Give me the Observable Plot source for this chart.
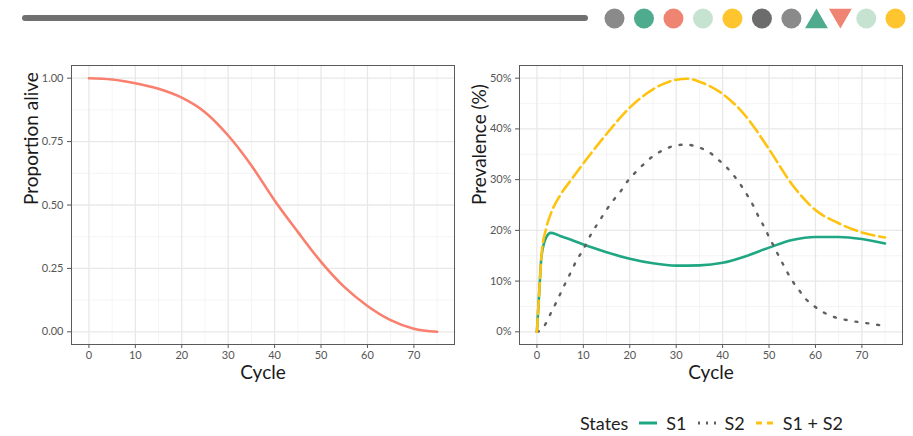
<!DOCTYPE html>
<html>
<head>
<meta charset="utf-8">
<script src="https://cdn.jsdelivr.net/npm/d3@7"></script>
<script src="https://cdn.jsdelivr.net/npm/@observablehq/plot@0.6"></script>
<style>
  body { margin: 0; background: #fff; font-family: Lato, "Open Sans", sans-serif; }
  #page { position: relative; width: 913px; height: 436px; overflow: hidden; background: #fff; }
  .abs { position: absolute; }
  #bar { left: 22px; top: 15px; width: 566px; height: 6px; border-radius: 3px; background: #707070; }
  #legend { left: 580px; top: 412px; display: flex; align-items: center; font-size: 18px; color: #222; white-space: nowrap; }
  #legend .key { display: flex; align-items: center; margin-left: 10px; }
  #legend svg { margin-right: 8px; }
</style>
</head>
<body>
<div id="page">
  <div id="bar" class="abs"></div>
  <div id="swatches" class="abs" style="left:600px;top:3px"></div>
  <div id="left" class="abs" style="left:0px;top:50px"></div>
  <div id="right" class="abs" style="left:455px;top:50px"></div>
  <div id="legend" class="abs"></div>
</div>
<script>
// Survival: proportion of the cohort still alive at each cycle
const cycles = [0, 5, 10, 15, 20, 25, 30, 35, 40, 45, 50, 55, 60, 65, 70, 75];
const alive  = [1.000, 0.995, 0.980, 0.958, 0.923, 0.866, 0.774, 0.656, 0.518, 0.394, 0.276, 0.177, 0.102, 0.046, 0.012, 0.000];

// Prevalence of state S1 (%)
const s1Cycle = [0, 0.5, 1, 2, 3, 4, 5, 7.5, 10, 15, 20, 25, 30, 35, 40, 45, 50, 55, 60, 65, 70, 75];
const s1Value = [0, 7.8, 15, 18.6, 19.5, 19.3, 18.9, 18.1, 17.2, 15.7, 14.4, 13.5, 13.05, 13.1, 13.6, 14.9, 16.6, 18.1, 18.7, 18.7, 18.3, 17.4];

// Prevalence of state S2 (%)
const s2Cycle = [0, 0.4, 1.9, 3.0, 4.1, 5.2, 6.3, 7.5, 8.6, 10.0, 11.1, 12.3, 13.7, 15.1, 16.6, 18.2, 19.6, 21.3, 23.2, 25.1, 27.4, 29.7, 32.2, 34.7, 37.1, 39.1, 40.9, 42.6, 44.1, 45.4, 46.7, 47.8, 49.0, 50.1, 51.3, 52.4, 53.6, 54.9, 56.4, 57.9, 59.8, 62.0, 64.4, 66.9, 69.4, 71.9, 75];
const s2Value = [0, 0.1, 1.6, 3.7, 5.7, 7.8, 9.9, 12.1, 14.2, 16.2, 18.3, 20.2, 22.2, 24.2, 26.1, 27.9, 29.8, 31.5, 33.2, 34.7, 35.9, 36.7, 36.9, 36.4, 35.4, 33.9, 32.4, 30.6, 28.7, 26.8, 24.7, 22.6, 20.6, 18.5, 16.4, 14.4, 12.3, 10.2, 8.3, 6.5, 5.0, 3.7, 2.8, 2.3, 1.9, 1.6, 1.1];

// Prevalence of S1 + S2 (%)
const totCycle = [0, 0.5, 1, 2, 3, 5, 7.5, 10, 15, 20, 25, 30, 32.5, 35, 40, 45, 50, 55, 60, 65, 70, 75];
const totValue = [0, 7.9, 15.2, 20.4, 23.3, 26.9, 30.1, 33.2, 39.0, 44.2, 47.8, 49.7, 49.9, 49.3, 46.9, 42.5, 36.0, 29.0, 24.0, 21.4, 19.6, 18.6];

// Axis ticks
const cycleTicks = [0, 10, 20, 30, 40, 50, 60, 70];
const cycleMinor = [5, 15, 25, 35, 45, 55, 65, 75];
const aliveTicks = [0, 0.25, 0.5, 0.75, 1];
const aliveMinor = [0.125, 0.375, 0.625, 0.875];
const prevTicks = [0, 10, 20, 30, 40, 50];
const prevMinor = [5, 15, 25, 35, 45];

// States legend
const stateNames = ["S1", "S2", "S1 + S2"];
const stateColors = ["#1fa784", "#606060", "#ffc20e"];

// Decorative header swatches
const swatchSlot  = [0, 1, 2, 3, 4, 5, 6, 6.85, 7.66, 8.54, 9.53];
const swatchColor = ["#8a8a8a", "#4fab8d", "#ef8473", "#c6e3d2", "#fec52f", "#6c6c6c", "#8a8a8a", "#4fab8d", "#ef8473", "#c6e3d2", "#fec52f"];
const swatchShape = ["circle", "circle", "circle", "circle", "circle", "circle", "circle", "up", "down", "circle", "circle"];

const font = "Lato, 'Open Sans', sans-serif";
const xDomain = [-3.75, 78.75];

function panelMarks(yTicks, yMinor, yFormat, ylabel) {
  return [
    Plot.gridX(cycleMinor, {stroke: "#f1f1f1", strokeOpacity: 1, strokeWidth: 0.8}),
    Plot.gridY(yMinor, {stroke: "#f1f1f1", strokeOpacity: 1, strokeWidth: 0.8}),
    Plot.gridX(cycleTicks, {stroke: "#e8e8e8", strokeOpacity: 1, strokeWidth: 1.3}),
    Plot.gridY(yTicks, {stroke: "#e8e8e8", strokeOpacity: 1, strokeWidth: 1.3}),
    Plot.axisX(cycleTicks, {tickSize: 4, tickPadding: 3, fontSize: 11, fill: "#555", stroke: "#555", label: null}),
    Plot.axisY(yTicks, {tickSize: 4, tickPadding: 4, fontSize: 11, fill: "#555", stroke: "#555", label: null, tickFormat: yFormat}),
    Plot.text(["Cycle"], {frameAnchor: "bottom", lineAnchor: "middle", dy: 28, fontSize: 19, fill: "#1a1a1a"}),
    Plot.text([ylabel], {frameAnchor: "left", rotate: -90, dx: -40, fontSize: 19, fill: "#1a1a1a"}),
    Plot.frame({stroke: "#5a5a5a", strokeWidth: 1})
  ];
}

// Left panel: survival curve
const survival = cycles.map((c, i) => ({cycle: c, alive: alive[i]}));
const leftPlot = Plot.plot({
  width: 456, height: 344,
  marginLeft: 71, marginRight: 2, marginTop: 15, marginBottom: 50,
  style: {fontFamily: font, background: "transparent", overflow: "visible"},
  x: {domain: xDomain},
  y: {domain: [-0.05, 1.05]},
  marks: [
    ...panelMarks(aliveTicks, aliveMinor, d3.format(".2f"), "Proportion alive"),
    Plot.line(survival, {x: "cycle", y: "alive", stroke: "#f97f6e", strokeWidth: 2.6, curve: "monotone-x"})
  ]
});
document.getElementById("left").appendChild(leftPlot);

// Right panel: state prevalence (S1 + S2 drawn last, on top)
const s1 = s1Cycle.map((c, i) => ({cycle: c, value: s1Value[i]}));
const s2 = s2Cycle.map((c, i) => ({cycle: c, value: s2Value[i]}));
const tot = totCycle.map((c, i) => ({cycle: c, value: totValue[i]}));
const rightPlot = Plot.plot({
  width: 448, height: 344,
  marginLeft: 64, marginRight: 1, marginTop: 15, marginBottom: 50,
  style: {fontFamily: font, background: "transparent", overflow: "visible"},
  x: {domain: xDomain},
  y: {domain: [-2.5, 52.5]},
  marks: [
    ...panelMarks(prevTicks, prevMinor, d => d + "%", "Prevalence (%)"),
    Plot.line(s1, {x: "cycle", y: "value", stroke: stateColors[0], strokeWidth: 2.6, curve: "monotone-x"}),
    Plot.line(s2, {x: "cycle", y: "value", stroke: stateColors[1], strokeWidth: 2.4, strokeDasharray: "2 9", curve: "monotone-x"}),
    Plot.line(tot, {x: "cycle", y: "value", stroke: stateColors[2], strokeWidth: 2.6, strokeDasharray: "13 5", curve: "monotone-x"})
  ]
});
document.getElementById("right").appendChild(rightPlot);

// Header swatches: circles plus an up and a down triangle, centred on the same line
const swatches = swatchSlot.map((s, i) => ({slot: s, color: swatchColor[i], shape: swatchShape[i]}));
const swatchPlot = Plot.plot({
  width: 313, height: 30,
  marginLeft: 14, marginRight: 18, marginTop: 0, marginBottom: 0,
  style: {background: "transparent", overflow: "visible"},
  x: {domain: [0, 9.53], axis: null},
  color: {type: "identity"},
  marks: [
    Plot.dot(swatches, {filter: d => d.shape === "circle", x: "slot", frameAnchor: "middle", fill: "color", r: 10, stroke: "none"}),
    Plot.dot(swatches, {filter: d => d.shape === "up", x: "slot", frameAnchor: "middle", fill: "color", symbol: "triangle", r: 8.5, dy: 3.2, stroke: "none"}),
    Plot.dot(swatches, {filter: d => d.shape === "down", x: "slot", frameAnchor: "middle", fill: "color", symbol: "triangle", r: 8.5, rotate: 180, dy: -3.2, stroke: "none"})
  ]
});
document.getElementById("swatches").appendChild(swatchPlot);

// Legend for the states
const legend = document.getElementById("legend");
const title = document.createElement("span");
title.textContent = "States";
legend.appendChild(title);
const dashes = ["none", "2 6", "6 5"];
stateNames.forEach((name, i) => {
  const key = document.createElement("span");
  key.className = "key";
  const svg = d3.create("svg").attr("width", 20).attr("height", 14);
  svg.append("line").attr("x1", 1).attr("x2", 19).attr("y1", 7).attr("y2", 7)
    .attr("stroke", stateColors[i]).attr("stroke-width", 3)
    .attr("stroke-dasharray", dashes[i]);
  key.appendChild(svg.node());
  const label = document.createElement("span");
  label.textContent = name;
  key.appendChild(label);
  legend.appendChild(key);
});
</script>
</body>
</html>
